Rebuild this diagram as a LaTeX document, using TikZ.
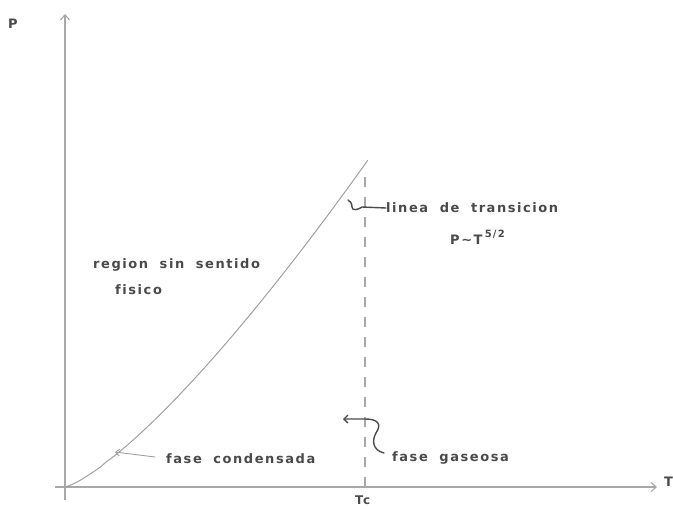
\documentclass[tikz,border=0pt]{standalone}
\usepackage{fontspec}
\setmainfont[LetterSpace=12, WordSpace=1.9, Ligatures=NoCommon, BoldFont={DejaVu Sans Bold}]{DejaVu Sans}
\usetikzlibrary{arrows.meta}
\definecolor{ink}{HTML}{4A4A4A}
\definecolor{axisc}{HTML}{A8A8A8}
\definecolor{curvec}{HTML}{A0A0A0}
\tikzset{
  lbl/.style={text=ink, font=\fontsize{13}{15}\bfseries\selectfont, inner sep=0pt, anchor=west},
  axisline/.style={draw=axisc, line width=1.1pt},
  pointer/.style={draw=ink, line width=1.4pt, line cap=round},
}
\begin{document}
\begin{tikzpicture}[x=1pt,y=-1pt]
\useasboundingbox (0,0) rectangle (673,509);
% axes
\coordinate (o) at (65,487);
\coordinate (ytop) at (65,14);
\coordinate (ybot) at (65,500);
\coordinate (xl) at (55,487);
\coordinate (xr) at (657,487);
\draw[axisline, -{Straight Barb[length=5pt,width=9pt]}] (xl) -- (xr);
\draw[axisline, -{Straight Barb[length=5pt,width=9pt]}] (ybot) -- (ytop);
% curve
\draw[draw=curvec, line width=1pt] plot[domain=0:1, samples=60] ({65+303*\x},{487-327*(\x)^(1.3)});
% dashed Tc line
\coordinate (tcb) at (365,487);
\coordinate (tct) at (365,170);
\draw[draw=axisc, line width=1.1pt, dash pattern=on 10pt off 10pt] (tcb) -- (tct);
% labels
\node[lbl] (P) at (8,24) {P};
\node[lbl] (T) at (664,482) {T};
\node[lbl, font=\fontsize{12}{14}\bfseries\selectfont] (Tc) at (355,500) {Tc};
\node[lbl] (lt) at (386,208) {linea de transicion};
\node[lbl] (law) at (450,237) {P∼T\,\raisebox{1.0ex}{\fontsize{10}{11}\bfseries\selectfont 5/2}};
\node[lbl] (rs) at (93,265) {region sin sentido};
\node[lbl] (fi) at (115,290) {fisico};
\node[lbl] (fc) at (166,459) {fase condensada};
\node[lbl] (fg) at (392,458) {fase gaseosa};
% pointers
\coordinate (fcp) at (115,452);
\coordinate (fcs) at (155,457);
\draw[pointer, draw=curvec, line width=0.9pt, -{Straight Barb[length=4pt,width=7pt]}] (fcs) -- (fcp);
\coordinate (hk) at (348,200);
\draw[pointer] (lt.west) -- (362,207) .. controls (358,210) and (352,211) .. (352,207) .. controls (352,203) and (350,201) .. (hk);
\coordinate (ga) at (343,419);
\coordinate (gs) at (384,453);
\draw[pointer, -{Straight Barb[length=4pt,width=8pt]}] (gs) .. controls (372,450) and (372,440) .. (376,433) .. controls (382,424) and (378,419) .. (365,419) -- (ga);
\end{tikzpicture}
\end{document}
